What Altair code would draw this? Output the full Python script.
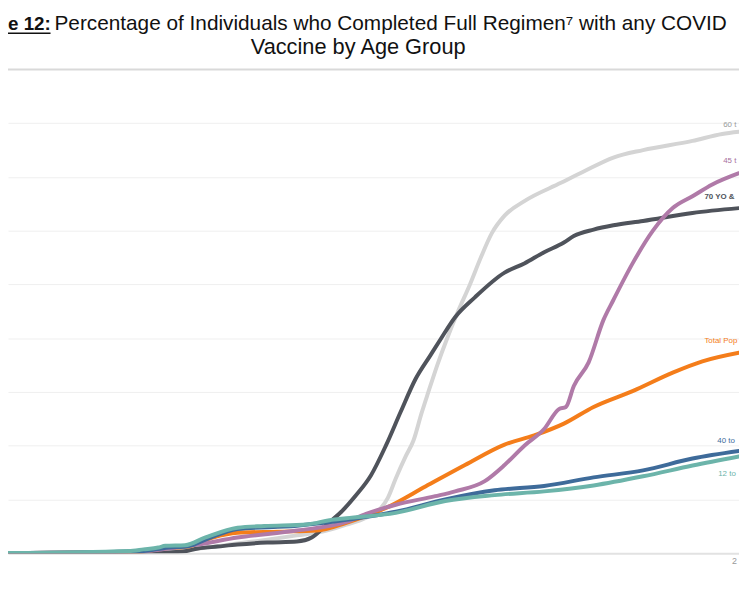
import altair as alt
import pandas as pd

# ---------------- text ----------------
title_prefix = "e 12:"
title_line1 = "Percentage of Individuals who Completed Full Regimen\u2077 with any COVID"
title_line2 = "Vaccine by Age Group"

# ---------------- series (drawing order: back to front) ----------------
series_names = ["60 t", "70 YO &", "Total Pop", "45 t", "40 to", "12 to"]
series_colors = ["#d4d4d4", "#4f535b", "#f47d1a", "#b07aa8", "#3e6b9a", "#6cb4aa"]

days_60 = [0, 30, 36, 42, 48, 54, 60, 66, 70, 74, 77, 78.4, 80, 82, 83.6, 85.2, 86.6, 88.4,
           90.4, 92.6, 95, 97.2, 99.4, 102, 106, 113.4, 118, 124, 130, 140, 146, 149.4]
pct_60 = [0, 0, 0.5, 1.05, 1.8, 2.5, 3.3, 4.2, 5.3, 6.6, 8.4, 10.3, 13.9, 18.0, 21.0, 26.0,
          30.0, 35.0, 40.0, 45.0, 50.0, 55.0, 59.5, 62.8, 65.5, 68.9, 71.0, 73.6, 75.0, 76.7,
          78.0, 78.4]

days_70 = [0, 30, 37, 40, 44, 48, 54, 60, 63, 66, 69, 72, 75, 78, 81, 84, 87, 89, 92, 96,
           102, 106, 110, 114, 116, 120, 124, 130, 140, 149.4]
pct_70 = [0, 0, 0.3, 0.86, 1.23, 1.6, 1.97, 2.15, 2.9, 5.3, 7.7, 10.8, 14.5, 20.0, 26.3,
          32.4, 36.8, 39.7, 43.9, 47.6, 52.2, 53.9, 56.0, 57.8, 59.0, 60.2, 61.0, 61.8, 63.3, 64.2]

days_total = [0, 28, 33, 38, 43, 48, 56, 64, 70, 78, 86, 94, 102, 108, 114, 120, 128, 136,
              142, 149.4]
pct_total = [0, 0.2, 0.87, 1.23, 2.9, 3.8, 4.0, 4.2, 5.65, 8.4, 12.4, 16.4, 20.2, 21.9, 24.1,
             27.2, 30.2, 33.6, 35.7, 37.3]

days_45 = [0, 28, 34, 40, 48, 60, 70, 74, 80, 88, 92, 98, 102, 106, 110, 113, 114.4, 116,
           119, 122, 124, 128, 132, 136, 140, 144, 149.4]
pct_45 = [0, 0.3, 0.86, 1.6, 2.9, 4.2, 5.8, 7.3, 9.0, 10.6, 11.5, 13.4, 16.4, 20.0, 23.1,
          26.8, 27.2, 31.1, 35.5, 43.4, 47.1, 54.1, 60.0, 64.2, 66.4, 68.6, 70.7]

days_40 = [0, 28, 34, 38, 42, 48, 60, 70, 80, 90, 100, 110, 120, 130, 140, 149.4]
pct_40 = [0, 0.3, 1.05, 1.3, 2.7, 4.5, 5.1, 6.2, 7.7, 10.0, 11.7, 12.5, 14.1, 15.4, 17.6, 19.0]

days_12 = [0, 26, 29, 32, 33.4, 37.4, 41.4, 48, 53.4, 62, 66.6, 70, 80, 90, 100, 110, 120,
           130, 140, 149.4]
pct_12 = [0, 0.4, 0.7, 1.05, 1.36, 1.47, 2.87, 4.73, 5.05, 5.34, 6.13, 6.5, 7.5, 9.7, 10.8,
          11.5, 12.6, 14.3, 16.3, 18.0]

series_days = [days_60, days_70, days_total, days_45, days_40, days_12]
series_pcts = [pct_60, pct_70, pct_total, pct_45, pct_40, pct_12]

# ---------------- end-of-line labels ----------------
label_texts = ["60 t", "45 t", "70 YO &", "Total Pop", "40 to", "12 to"]
label_days = [146.2, 146.2, 142.4, 142.4, 145.0, 145.2]
label_pcts = [79.7, 72.9, 66.3, 39.4, 20.9, 14.7]
label_colors = ["#9b9b9b", "#a8709e", "#4f535b", "#f47d1a", "#3e6b9a", "#6cb4aa"]
label_weights = ["normal", "normal", "bold", "normal", "normal", "normal"]

# ---------------- axes ----------------
grid_values = [10, 20, 30, 40, 50, 60, 70, 80]
top_line = [90]
tick_days = [148.4]
tick_labels = ["2"]

FONT = "Liberation Sans"

xscale = alt.Scale(domain=[1.6, 149.4], nice=False, zero=False)
yscale = alt.Scale(domain=[0, 90], nice=False)

xaxis = alt.Axis(values=tick_days, labelExpr="'" + tick_labels[0] + "'", ticks=False,
                 grid=False, domainColor="#e2e2e2", domainWidth=2, labelColor="#9a9a9a",
                 labelFontSize=9, labelPadding=3, labelFlush=False, title=None, labelFont=FONT)
yaxis = alt.Axis(values=grid_values, labels=False, ticks=False, domain=False,
                 gridColor="#efefef", gridWidth=1, title=None)

layers = []

top_rule = alt.Chart(pd.DataFrame({"v": top_line})).mark_rule(
    color="#d9d9d9", strokeWidth=2).encode(y=alt.Y("v:Q", scale=yscale, axis=yaxis))
layers.append(top_rule)

for name, color, d, p in zip(series_names, series_colors, series_days, series_pcts):
    sub = pd.DataFrame({"day": d, "pct": p, "series": name})
    layers.append(
        alt.Chart(sub).mark_line(color=color, strokeWidth=4, clip=True, interpolate="monotone",
                                 strokeJoin="round", strokeCap="round").encode(
            x=alt.X("day:Q", scale=xscale, axis=xaxis),
            y=alt.Y("pct:Q", scale=yscale, axis=yaxis),
        )
    )

for t, dd, pp, c, w in zip(label_texts, label_days, label_pcts, label_colors, label_weights):
    lab_df = pd.DataFrame({"day": [dd], "pct": [pp], "txt": [t]})
    layers.append(
        alt.Chart(lab_df).mark_text(align="left", baseline="middle", fontSize=8, font=FONT,
                                    color=c, fontWeight=w).encode(
            x=alt.X("day:Q", scale=xscale, axis=xaxis),
            y=alt.Y("pct:Q", scale=yscale, axis=yaxis),
            text="txt:N",
        )
    )

one = pd.DataFrame({"k": [0]})
layers.append(alt.Chart(one).mark_text(text=title_prefix, align="left", baseline="alphabetic",
                                       fontSize=19, fontWeight="bold", font=FONT,
                                       color="#111111").encode(
    x=alt.value(0), y=alt.value(-40)))
layers.append(alt.Chart(one).mark_rule(color="#111111", strokeWidth=1.5).encode(
    x=alt.value(0), x2=alt.value(43), y=alt.value(-36.5)))
layers.append(alt.Chart(one).mark_text(text=title_line1, align="left", baseline="alphabetic",
                                       fontSize=21, font=FONT, color="#111111").encode(
    x=alt.value(47), y=alt.value(-40)))
layers.append(alt.Chart(one).mark_text(text=title_line2, align="center", baseline="alphabetic",
                                       fontSize=22, font=FONT, color="#111111").encode(
    x=alt.value(354), y=alt.value(-15.5)))

chart = alt.layer(*layers).properties(
    width=739, height=489,
    padding={"left": 0, "top": 59, "right": 0, "bottom": 22},
    autosize=alt.AutoSizeParams(type="none"),
    background="white",
).configure_view(strokeWidth=0)

chart.save("out.html", embed_options={"renderer": "svg", "actions": False})
